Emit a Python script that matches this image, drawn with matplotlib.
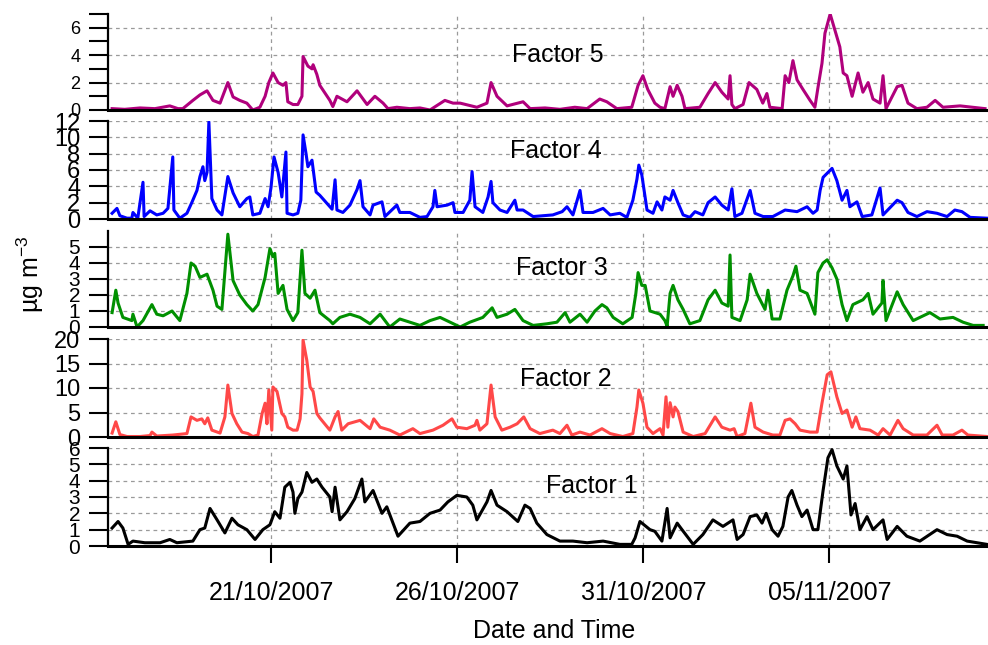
import numpy as np
import pandas as pd
import matplotlib
matplotlib.use('Agg')
import matplotlib.pyplot as plt
import matplotlib.dates as mdates

# time axis: days after 16/10/2007 00:00
f5_t = [0.73, 1.07, 1.48, 1.88, 2.28, 2.50, 2.63, 2.90, 3.09, 3.28,
        3.44, 3.63, 3.84, 3.98, 4.16, 4.35, 4.51, 4.70, 4.84, 4.94,
        5.05, 5.19, 5.32, 5.40, 5.45, 5.59, 5.72, 5.83, 5.86, 5.99,
        6.10, 6.13, 6.23, 6.31, 6.58, 6.66, 6.77, 7.04, 7.31, 7.58,
        7.79, 8.01, 8.14, 8.38, 8.73, 9.00, 9.27, 9.67, 9.89, 10.08,
        10.53, 10.80, 10.91, 11.07, 11.34, 11.77, 11.96, 12.36, 12.76, 13.16,
        13.49, 13.83, 14.02, 14.29, 14.69, 14.86, 14.99, 15.12, 15.31, 15.45,
        15.58, 15.72, 15.80, 15.91, 16.04, 16.12, 16.52, 16.74, 16.93, 17.11,
        17.28, 17.33, 17.38, 17.46, 17.68, 17.84, 18.05, 18.21, 18.32, 18.40,
        18.73, 18.81, 18.91, 19.02, 19.13, 19.29, 19.48, 19.61, 19.69, 19.80,
        19.88, 20.02, 20.15, 20.28, 20.37, 20.47, 20.61, 20.77, 20.90, 21.04,
        21.17, 21.36, 21.44, 21.52, 21.82, 21.95, 22.11, 22.35, 22.62, 22.84,
        23.05, 23.51, 24.18]
f5_v = [0.1, 0.05, 0.15, 0.1, 0.3, 0.1, 0.1, 0.7, 1.1, 1.4,
        0.7, 0.5, 2.0, 0.95, 0.7, 0.5, 0.0, 0.2, 1.0, 2.0,
        2.7, 2.0, 1.8, 2.0, 0.6, 0.4, 0.4, 1.0, 3.9, 3.2,
        3.0, 3.3, 2.6, 1.8, 0.7, 0.25, 1.0, 0.6, 1.4, 0.4,
        1.0, 0.5, 0.1, 0.2, 0.1, 0.15, 0.0, 0.7, 0.5, 0.5,
        0.2, 0.5, 2.0, 1.0, 0.3, 0.6, 0.1, 0.15, 0.05, 0.2,
        0.1, 0.8, 0.6, 0.1, 0.2, 1.8, 2.5, 1.5, 0.5, 0.2,
        0.1, 1.7, 1.0, 1.8, 1.0, 0.1, 0.2, 1.2, 2.0, 1.3,
        0.8, 2.5, 0.4, 0.1, 0.4, 2.0, 1.5, 0.5, 1.2, 0.2,
        0.1, 2.5, 2.0, 3.6, 2.2, 1.5, 0.7, 0.2, 1.6, 3.4,
        5.6, 7.0, 5.8, 4.6, 2.7, 2.5, 1.0, 2.7, 1.3, 2.0,
        0.8, 0.5, 2.5, 0.1, 1.7, 1.8, 0.5, 0.1, 0.2, 0.7,
        0.2, 0.3, 0.1]

f4_t = [0.73, 0.86, 0.94, 1.13, 1.26, 1.29, 1.42, 1.56, 1.59, 1.75,
        1.93, 2.10, 2.23, 2.36, 2.39, 2.55, 2.74, 2.87, 3.01, 3.09,
        3.17, 3.22, 3.28, 3.33, 3.41, 3.55, 3.68, 3.84, 3.98, 4.16,
        4.35, 4.43, 4.51, 4.70, 4.84, 4.92, 5.00, 5.08, 5.19, 5.29,
        5.40, 5.43, 5.59, 5.72, 5.80, 5.86, 5.94, 5.99, 6.10, 6.21,
        6.31, 6.64, 6.72, 6.77, 6.93, 7.12, 7.31, 7.39, 7.47, 7.66,
        7.74, 7.98, 8.06, 8.38, 8.46, 8.73, 9.00, 9.19, 9.35, 9.40,
        9.46, 9.73, 9.89, 9.94, 10.16, 10.34, 10.40, 10.48, 10.69, 10.83,
        10.91, 10.96, 11.15, 11.34, 11.55, 11.61, 11.77, 12.04, 12.57, 12.82,
        12.95, 13.11, 13.30, 13.38, 13.65, 13.92, 14.11, 14.37, 14.56, 14.72,
        14.83, 14.88, 14.96, 15.10, 15.26, 15.37, 15.50, 15.58, 15.72, 15.80,
        15.93, 16.07, 16.25, 16.39, 16.60, 16.74, 16.93, 17.11, 17.28, 17.38,
        17.46, 17.65, 17.87, 18.00, 18.22, 18.48, 18.81, 19.13, 19.40, 19.56,
        19.67, 19.75, 19.83, 20.07, 20.20, 20.34, 20.47, 20.55, 20.74, 20.88,
        21.14, 21.36, 21.44, 21.82, 21.95, 22.11, 22.35, 22.62, 22.89, 23.16,
        23.37, 23.56, 23.78, 24.23]
f4_v = [0.7, 1.3, 0.4, 0.1, 0.1, 0.8, 0.1, 4.5, 0.3, 1.0,
        0.5, 0.7, 1.3, 7.6, 1.1, 0.1, 0.7, 2.0, 3.5, 5.2,
        6.4, 4.7, 5.7, 11.9, 2.5, 1.1, 0.5, 5.2, 3.2, 1.5,
        2.5, 2.7, 0.5, 0.7, 2.5, 1.5, 3.9, 7.6, 5.7, 2.7,
        8.2, 0.7, 0.5, 0.7, 2.3, 10.3, 8.0, 6.4, 7.2, 3.3,
        2.9, 1.2, 4.8, 1.1, 0.8, 1.7, 3.6, 4.7, 1.5, 0.5,
        1.7, 2.1, 0.3, 1.7, 0.8, 0.8, 0.2, 0.3, 1.5, 3.5,
        1.5, 1.7, 2.0, 0.8, 0.8, 2.3, 5.8, 1.5, 0.8, 2.7,
        4.6, 2.0, 1.1, 0.8, 2.3, 1.1, 1.1, 0.3, 0.5, 0.9,
        1.5, 0.5, 3.5, 0.8, 0.8, 1.3, 0.5, 0.7, 0.2, 2.3,
        4.9, 6.6, 5.4, 1.1, 0.7, 2.1, 1.1, 2.7, 2.3, 3.5,
        2.0, 0.5, 0.2, 0.9, 0.5, 2.0, 2.7, 1.7, 1.1, 3.7,
        0.3, 0.7, 3.5, 0.7, 0.3, 0.3, 1.1, 0.9, 1.5, 0.7,
        1.1, 3.5, 5.1, 6.2, 4.7, 2.3, 3.5, 1.5, 2.1, 0.3,
        0.5, 3.8, 0.5, 2.3, 2.0, 0.8, 0.3, 0.9, 0.7, 0.3,
        1.1, 0.9, 0.2, 0.1]

f3_t = [0.73, 0.83, 0.89, 1.02, 1.26, 1.29, 1.40, 1.56, 1.80, 1.93,
        2.10, 2.34, 2.55, 2.74, 2.85, 2.96, 3.09, 3.28, 3.44, 3.55,
        3.68, 3.84, 3.98, 4.16, 4.35, 4.51, 4.65, 4.84, 4.97, 5.05,
        5.10, 5.19, 5.32, 5.43, 5.59, 5.72, 5.83, 5.91, 6.05, 6.18,
        6.31, 6.58, 6.66, 6.85, 7.12, 7.39, 7.66, 7.93, 8.19, 8.46,
        8.73, 9.00, 9.27, 9.54, 9.81, 10.08, 10.34, 10.69, 10.94, 11.07,
        11.34, 11.55, 11.77, 12.04, 12.41, 12.68, 12.90, 13.03, 13.30, 13.49,
        13.70, 13.89, 14.02, 14.19, 14.45, 14.70, 14.80, 14.86, 14.96, 15.05,
        15.18, 15.45, 15.58, 15.64, 15.72, 15.80, 15.93, 16.07, 16.25, 16.52,
        16.74, 16.93, 17.11, 17.28, 17.33, 17.38, 17.60, 17.79, 17.87, 18.05,
        18.27, 18.35, 18.46, 18.67, 18.86, 19.02, 19.10, 19.21, 19.40, 19.61,
        19.69, 19.83, 19.94, 20.07, 20.20, 20.34, 20.47, 20.63, 20.90, 21.04,
        21.17, 21.41, 21.44, 21.52, 21.82, 21.98, 22.25, 22.43, 22.70, 22.97,
        23.32, 23.59, 23.86, 24.13]
f3_v = [0.9, 2.3, 1.5, 0.6, 0.4, 0.8, 0.0, 0.4, 1.4, 0.8,
        0.7, 1.0, 0.4, 2.1, 4.0, 3.8, 3.1, 3.3, 2.3, 1.3,
        1.1, 5.8, 2.9, 2.0, 1.4, 1.0, 1.4, 3.1, 4.9, 4.4,
        4.6, 2.1, 2.6, 1.1, 0.4, 0.9, 4.8, 2.1, 1.8, 2.3,
        0.9, 0.4, 0.2, 0.6, 0.8, 0.6, 0.2, 0.8, 0.0, 0.5,
        0.3, 0.1, 0.4, 0.6, 0.3, 0.0, 0.3, 0.6, 1.2, 0.6,
        0.8, 1.1, 0.4, 0.1, 0.2, 0.3, 0.9, 0.3, 0.8, 0.3,
        1.0, 1.4, 1.2, 0.6, 0.2, 0.6, 2.1, 3.4, 2.6, 2.6,
        1.0, 0.8, 0.4, 0.05, 2.1, 2.6, 1.7, 1.1, 0.2, 0.4,
        1.7, 2.3, 1.5, 1.3, 4.5, 0.6, 0.4, 1.7, 3.3, 2.1,
        1.1, 2.3, 0.5, 0.5, 2.3, 3.2, 3.8, 2.3, 2.1, 0.8,
        3.4, 4.0, 4.2, 3.7, 3.0, 1.4, 0.4, 1.4, 1.7, 2.1,
        0.8, 1.5, 2.9, 0.4, 2.2, 1.4, 0.4, 0.6, 0.9, 0.5,
        0.6, 0.3, 0.1, 0.1]

f2_t = [0.73, 0.83, 0.94, 1.13, 1.48, 1.75, 1.80, 1.93, 2.36, 2.74,
        2.85, 3.01, 3.14, 3.22, 3.30, 3.41, 3.63, 3.76, 3.84, 3.95,
        4.08, 4.22, 4.38, 4.51, 4.65, 4.76, 4.84, 4.89, 4.94, 5.02,
        5.05, 5.16, 5.29, 5.37, 5.45, 5.59, 5.70, 5.78, 5.83, 5.86,
        5.96, 6.05, 6.13, 6.23, 6.31, 6.58, 6.72, 6.80, 6.90, 7.07,
        7.39, 7.66, 7.76, 7.93, 8.19, 8.46, 8.81, 9.00, 9.35, 9.62,
        9.86, 9.99, 10.26, 10.48, 10.53, 10.61, 10.80, 10.91, 11.02, 11.20,
        11.42, 11.61, 11.79, 11.96, 12.22, 12.57, 12.76, 12.95, 13.08, 13.30,
        13.57, 13.89, 14.11, 14.45, 14.72, 14.83, 14.88, 14.99, 15.10, 15.26,
        15.45, 15.53, 15.61, 15.66, 15.72, 15.80, 15.85, 15.93, 16.07, 16.34,
        16.66, 16.93, 17.11, 17.33, 17.44, 17.52, 17.73, 17.89, 18.00, 18.22,
        18.48, 18.67, 18.81, 18.94, 19.08, 19.21, 19.48, 19.67, 19.80, 19.94,
        20.04, 20.20, 20.34, 20.47, 20.61, 20.71, 20.82, 21.09, 21.31, 21.44,
        21.63, 21.84, 21.98, 22.25, 22.62, 22.89, 23.03, 23.32, 23.56, 23.72,
        24.23]
f2_v = [0.8, 3.1, 0.5, 0.1, 0.1, 0.3, 1.0, 0.2, 0.4, 0.7,
        4.1, 3.4, 3.7, 2.7, 3.9, 1.4, 0.8, 4.1, 10.6, 4.8,
        2.7, 1.0, 0.7, 0.1, 0.4, 4.8, 6.9, 2.7, 9.6, 1.4,
        10.2, 9.3, 4.8, 4.1, 2.0, 1.4, 1.4, 3.7, 8.8, 19.8,
        15.7, 10.2, 9.3, 4.8, 3.9, 1.4, 4.1, 5.2, 1.4, 2.7,
        3.4, 1.7, 3.7, 2.0, 1.4, 0.4, 1.7, 0.7, 1.4, 2.4,
        3.7, 2.0, 1.7, 2.4, 3.4, 1.4, 2.7, 10.6, 4.1, 1.4,
        2.0, 2.7, 4.1, 1.7, 0.7, 1.4, 0.7, 2.4, 0.4, 1.0,
        0.4, 1.7, 0.7, 0.1, 0.7, 6.1, 9.6, 6.9, 2.0, 0.7,
        1.7, 0.4, 8.2, 2.0, 7.0, 4.1, 6.1, 5.2, 1.0, 0.1,
        0.7, 4.1, 2.0, 1.4, 1.7, 0.1, 0.7, 6.9, 2.0, 1.0,
        0.4, 0.4, 3.4, 3.7, 2.7, 1.4, 1.0, 1.0, 6.9, 12.7,
        13.3, 8.2, 4.8, 5.5, 2.0, 4.1, 1.7, 1.4, 0.4, 1.7,
        0.4, 3.4, 1.7, 0.4, 0.4, 2.4, 0.4, 0.4, 1.4, 0.4,
        0.1]

f1_t = [0.73, 0.89, 1.02, 1.16, 1.29, 1.61, 2.02, 2.28, 2.47, 2.90,
        3.09, 3.22, 3.36, 3.55, 3.76, 3.95, 4.11, 4.35, 4.57, 4.78,
        4.97, 5.10, 5.24, 5.37, 5.51, 5.59, 5.64, 5.72, 5.83, 5.96,
        6.10, 6.23, 6.37, 6.58, 6.64, 6.72, 6.85, 7.04, 7.25, 7.44,
        7.52, 7.74, 7.98, 8.11, 8.41, 8.73, 9.00, 9.27, 9.54, 9.75,
        9.99, 10.26, 10.42, 10.53, 10.80, 10.91, 11.07, 11.34, 11.63, 11.82,
        11.96, 12.14, 12.41, 12.76, 13.11, 13.49, 13.92, 14.37, 14.69, 14.78,
        14.91, 15.18, 15.31, 15.50, 15.64, 15.72, 15.91, 16.04, 16.34, 16.60,
        16.87, 17.14, 17.41, 17.52, 17.68, 17.87, 18.05, 18.19, 18.30, 18.46,
        18.62, 18.75, 18.89, 18.99, 19.13, 19.26, 19.40, 19.56, 19.69, 19.83,
        19.96, 20.07, 20.20, 20.37, 20.47, 20.58, 20.69, 20.82, 21.01, 21.17,
        21.44, 21.55, 21.82, 22.08, 22.43, 22.89, 23.16, 23.43, 23.70, 24.23]
f1_v = [1.1, 1.5, 1.1, 0.1, 0.3, 0.2, 0.2, 0.4, 0.2, 0.3,
        1.0, 1.1, 2.3, 1.6, 0.8, 1.7, 1.3, 1.0, 0.4, 1.0,
        1.3, 2.1, 1.7, 3.6, 3.9, 3.3, 2.0, 2.9, 3.3, 4.5,
        3.9, 4.1, 3.6, 3.0, 2.1, 3.6, 1.6, 2.1, 2.9, 4.1,
        2.7, 3.4, 2.0, 2.4, 0.6, 1.4, 1.5, 2.0, 2.2, 2.7,
        3.1, 3.0, 2.5, 1.6, 2.7, 3.4, 2.5, 2.1, 1.5, 2.5,
        2.3, 1.4, 0.7, 0.3, 0.3, 0.2, 0.3, 0.1, 0.1, 0.5,
        1.5, 1.0, 0.9, 0.3, 2.3, 0.5, 1.4, 1.0, 0.1, 0.7,
        1.6, 1.2, 1.6, 0.4, 0.7, 1.8, 1.9, 1.4, 2.0, 1.0,
        0.6, 1.2, 3.0, 3.4, 2.5, 1.8, 2.2, 1.0, 1.0, 3.4,
        5.4, 5.9, 4.9, 4.1, 4.9, 1.9, 2.6, 1.0, 1.8, 1.0,
        1.6, 0.4, 1.2, 0.6, 0.3, 1.0, 0.7, 0.6, 0.3, 0.1]

date_ticks = ['2007-10-21', '2007-10-26', '2007-10-31', '2007-11-05']
factor_names = ['Factor 5', 'Factor 4', 'Factor 3', 'Factor 2', 'Factor 1']

plt.rcParams['font.family'] = ['Liberation Sans', 'DejaVu Sans']
plt.rcParams['mathtext.default'] = 'regular'

t0 = pd.Timestamp('2007-10-16')


def to_dates(t):
    return t0 + pd.to_timedelta(np.array(t), unit='D')


W, H = 988, 645
fig = plt.figure(figsize=(W / 100, H / 100), dpi=100)

# (top px, bottom px) of each panel
boxes = [(14, 110), (121, 219), (231, 327), (339, 437), (448, 546)]
series = [(f5_t, f5_v), (f4_t, f4_v), (f3_t, f3_v), (f2_t, f2_v), (f1_t, f1_v)]
colors = ['#b0007c', '#0000ff', '#009000', '#ff4848', '#000000']
ylims = [7, 12, 6, 20, 6]
majors = [[0, 2, 4, 6], [0, 2, 4, 6, 8, 10, 12], [0, 1, 2, 3, 4, 5],
          [0, 5, 10, 15, 20], [0, 1, 2, 3, 4, 5, 6]]
label_pos = [(558, 55), (556, 151), (562, 268), (566, 379), (592, 486)]
tick_fs = [13, 17, 15, 17, 15]

xmin = to_dates([0.62])[0]
xmax = to_dates([24.26])[0]
xt = pd.to_datetime(date_ticks)

axes = []
for i in range(5):
    top, bot = boxes[i]
    ax = fig.add_axes([108 / W, (H - bot) / H, (W - 108) / W, (bot - top) / H],
                      sharex=axes[0] if axes else None)
    axes.append(ax)
    t, v = series[i]
    ax.plot(to_dates(t), v, color=colors[i], lw=2.2, solid_joinstyle='round')
    ax.set_ylim(0, ylims[i])
    ax.set_yticks(majors[i])
    if i == 0:
        ax.set_yticks([1, 3, 5, 7], minor=True)
        ax.tick_params(axis='y', which='minor', direction='out', length=14,
                       width=1.5)
    ax.tick_params(axis='y', which='major', direction='out', length=14,
                   width=1.5, pad=6, labelsize=tick_fs[i])
    for s in ['top', 'right']:
        ax.spines[s].set_visible(False)
    ax.spines['left'].set_linewidth(1.6)
    ax.spines['bottom'].set_linewidth(2.2)
    ax.set_axisbelow(True)
    ax.grid(True, which='major', color='#9a9a9a', ls=(0, (3, 3)), lw=0.9)
    ax.set_facecolor('none')
    fig.text(label_pos[i][0] / W, 1 - label_pos[i][1] / H, factor_names[i],
             fontsize=18, ha='center', va='center')

axes[0].set_xlim(xmin, xmax)
axes[-1].set_xticks(xt)
axes[-1].xaxis.set_major_formatter(mdates.DateFormatter('%d/%m/%Y'))
for ax in axes[:-1]:
    ax.tick_params(axis='x', length=0, labelbottom=False)
axes[-1].tick_params(axis='x', direction='out', length=12, width=1.5,
                     pad=13, labelsize=18)

fig.text(554 / W, 1 - 631 / H, 'Date and Time', fontsize=18,
         ha='center', va='center')
fig.text(30 / W, 1 - 274 / H, 'µg m$^{-3}$', fontsize=18, rotation=90,
         ha='center', va='center')

fig.savefig('out.png', dpi=100)
